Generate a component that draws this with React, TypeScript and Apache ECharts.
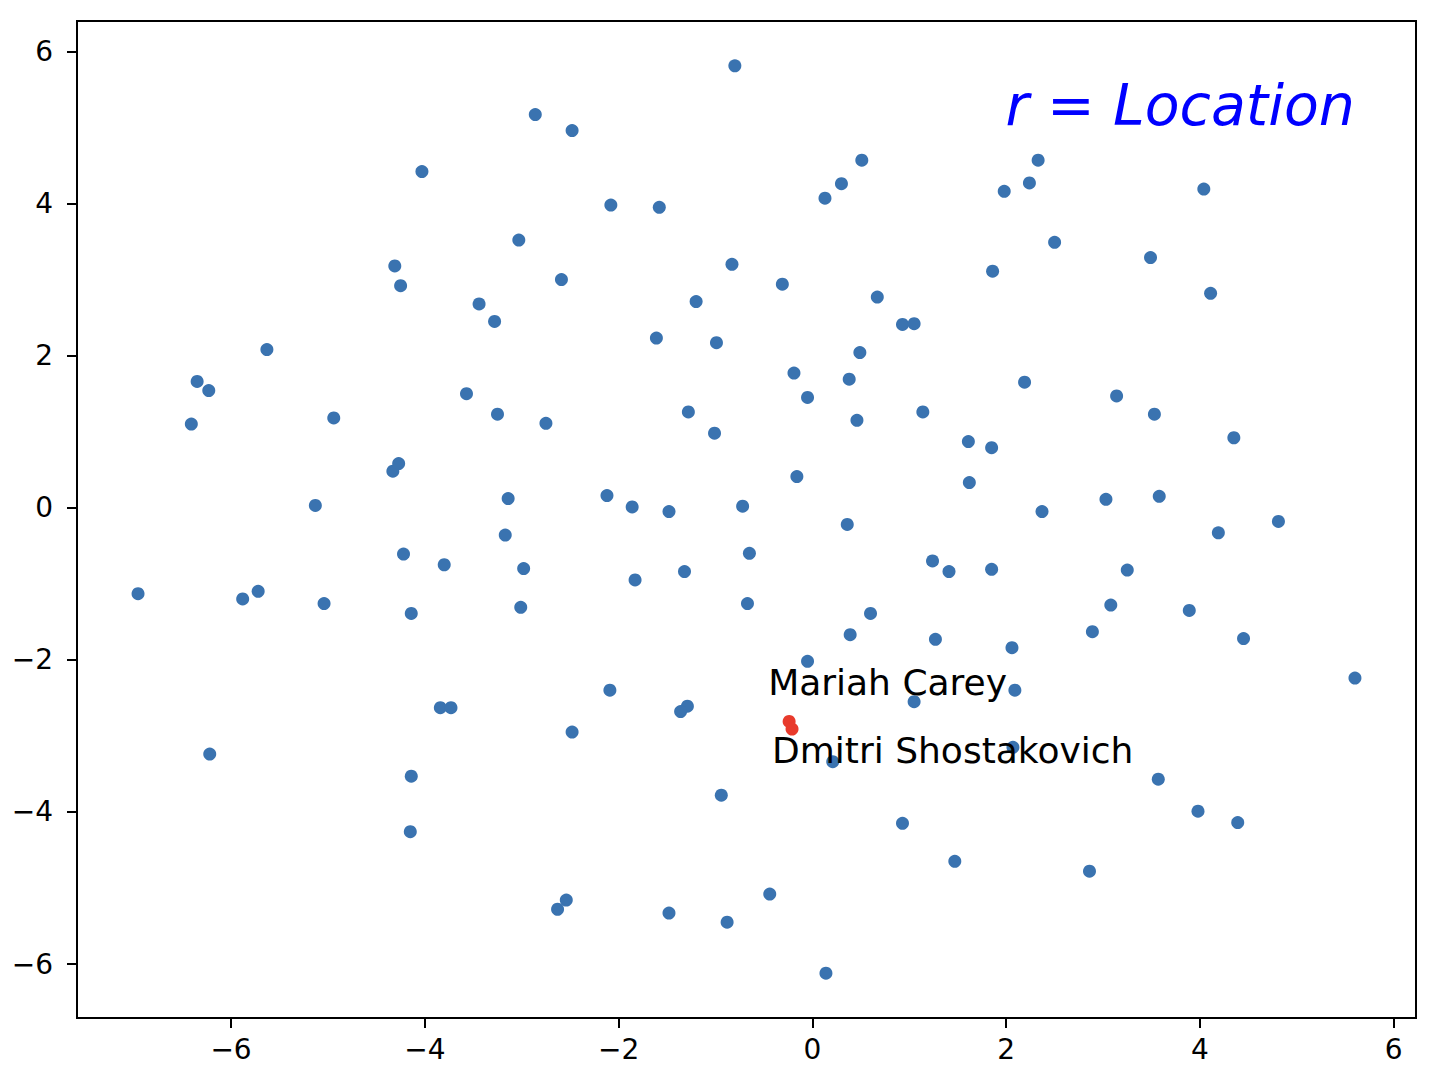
import React, { useEffect, useRef } from 'react';
import * as echarts from 'echarts';

const blueX = [
  -6.96, -6.41, -6.35, -6.23, -6.22, -5.88, -5.72, -5.63, -5.13, -5.04,
  -4.94, -4.33, -4.27, -4.31, -4.25, -4.22, -4.14, -4.14, -4.15, -4.03,
  -3.84, -3.73, -3.80, -3.57, -3.44, -3.28, -3.25, -3.17, -3.14, -3.03,
  -3.01, -2.98, -2.86, -2.75, -2.63, -2.54, -2.59, -2.48, -2.48, -2.12,
  -2.09, -2.08, -1.86, -1.83, -1.61, -1.58, -1.48, -1.48, -1.32, -1.28,
  -1.29, -1.36, -1.20, -1.01, -0.99, -0.94, -0.88, -0.83, -0.80, -0.72,
  -0.67, -0.65, -0.44, -0.31, -0.19, -0.16, -0.05, -0.05, 0.13, 0.14,
  0.21, 0.30, 0.36, 0.38, 0.39, 0.46, 0.49, 0.51, 0.60, 0.67,
  0.93, 1.05, 0.93, 1.05, 1.14, 1.24, 1.27, 1.41, 1.47, 1.61,
  1.62, 1.85, 1.85, 1.86, 1.98, 2.06, 2.09, 2.07, 2.19, 2.24,
  2.33, 2.37, 2.50, 2.86, 2.89, 3.03, 3.08, 3.14, 3.25, 3.49,
  3.53, 3.57, 3.58, 3.89, 3.98, 4.04, 4.11, 4.19, 4.35, 4.39,
  4.45, 4.81, 5.60,
];
const blueY = [
  -1.13, 1.10, 1.66, 1.54, -3.24, -1.20, -1.10, 2.08, 0.03, -1.26,
  1.18, 0.48, 0.58, 3.18, 2.92, -0.61, -1.39, -3.53, -4.26, 4.42,
  -2.63, -2.63, -0.75, 1.50, 2.68, 2.45, 1.23, -0.36, 0.12, 3.52,
  -1.31, -0.80, 5.17, 1.11, -5.28, -5.16, 3.00, 4.96, -2.95, 0.16,
  -2.40, 3.98, 0.01, -0.95, 2.23, 3.95, -0.05, -5.33, -0.84, 1.26,
  -2.61, -2.68, 2.71, 0.98, 2.17, -3.78, -5.45, 3.20, 5.81, 0.02,
  -1.26, -0.60, -5.08, 2.94, 1.77, 0.41, 1.45, -2.02, 4.07, -6.12,
  -3.34, 4.26, -0.22, 1.69, -1.67, 1.15, 2.04, 4.57, -1.39, 2.77,
  2.41, 2.42, -4.15, -2.55, 1.26, -0.70, -1.73, -0.84, -4.65, 0.87,
  0.33, 0.79, -0.81, 3.11, 4.16, -1.84, -2.40, -3.15, 1.65, 4.27,
  4.57, -0.05, 3.49, -4.78, -1.63, 0.11, -1.28, 1.47, -0.82, 3.29,
  1.23, -3.57, 0.15, -1.35, -3.99, 4.19, 2.82, -0.33, 0.92, -4.14,
  -1.72, -0.18, -2.24,
];

const highlightX = [-0.24, -0.21];
const highlightY = [-2.81, -2.91];
const highlightNames = ['Mariah Carey', 'Dmitri Shostakovich'];

const xTicks = [-6, -4, -2, 0, 2, 4, 6];
const yTicks = [-6, -4, -2, 0, 2, 4, 6];

const FONT = 'DejaVu Sans';

export default function App() {
  const ref = useRef<HTMLDivElement>(null);
  useEffect(() => {
    const chart = echarts.init(ref.current!, null, { renderer: 'svg' });
    const fmt = (v: number) => (v < 0 ? '\u2212' + Math.abs(v) : String(v));
    const labelOffsets = [
      [-21, -39],
      [-20, 21],
    ];
    chart.setOption({
      animation: false,
      grid: {
        left: 77,
        right: 22,
        top: 21,
        bottom: 56,
        show: true,
        borderColor: '#000',
        borderWidth: 2,
        backgroundColor: 'transparent',
      },
      xAxis: {
        type: 'value',
        min: -7.59,
        max: 6.23,
        splitLine: { show: false },
        axisLine: { show: true, onZero: false, lineStyle: { color: '#000', width: 2 } },
        axisTick: { show: true, customValues: xTicks, length: 10, lineStyle: { color: '#000', width: 2 } },
        axisLabel: {
          customValues: xTicks,
          formatter: fmt,
          color: '#000',
          fontSize: 28,
          fontFamily: FONT,
          margin: 17,
        },
      },
      yAxis: {
        type: 'value',
        min: -6.71,
        max: 6.40,
        splitLine: { show: false },
        axisLine: { show: true, onZero: false, lineStyle: { color: '#000', width: 2 } },
        axisTick: { show: true, customValues: yTicks, length: 10, lineStyle: { color: '#000', width: 2 } },
        axisLabel: {
          customValues: yTicks,
          formatter: fmt,
          color: '#000',
          fontSize: 28,
          fontFamily: FONT,
          margin: 24,
        },
      },
      graphic: [
        {
          type: 'text',
          x: 1355,
          y: 105,
          style: {
            text: '{i|r} {n|=} {i|Location}',
            align: 'right',
            verticalAlign: 'middle',
            rich: {
              i: { fontFamily: FONT, fontStyle: 'italic', fontSize: 57, fill: '#0000ff', color: '#0000ff' },
              n: { fontFamily: FONT, fontStyle: 'normal', fontSize: 57, fill: '#0000ff', color: '#0000ff' },
            },
            fontFamily: FONT,
            fontSize: 57,
            fill: '#0000ff',
          },
        },
      ],
      series: [
        {
          type: 'scatter',
          symbol: 'circle',
          symbolSize: 13,
          itemStyle: { color: '#3a73b0', opacity: 1 },
          data: blueX.map((x, i) => [x, blueY[i]]),
          z: 2,
        },
        {
          type: 'scatter',
          symbol: 'circle',
          symbolSize: 13,
          itemStyle: { color: '#e83a2c', opacity: 1 },
          z: 3,
          data: highlightX.map((x, i) => ({
            value: [x, highlightY[i]],
            label: {
              show: true,
              formatter: highlightNames[i],
              position: 'inside',
              align: 'left',
              verticalAlign: 'middle',
              offset: labelOffsets[i],
              color: '#000',
              fontSize: 36,
              fontFamily: FONT,
            },
          })),
        },
      ],
    });
    return () => chart.dispose();
  }, []);
  return (
    <div
      ref={ref}
      style={{ position: 'absolute', left: 0, top: 0, width: 1438, height: 1074, background: '#fff' }}
    />
  );
}
